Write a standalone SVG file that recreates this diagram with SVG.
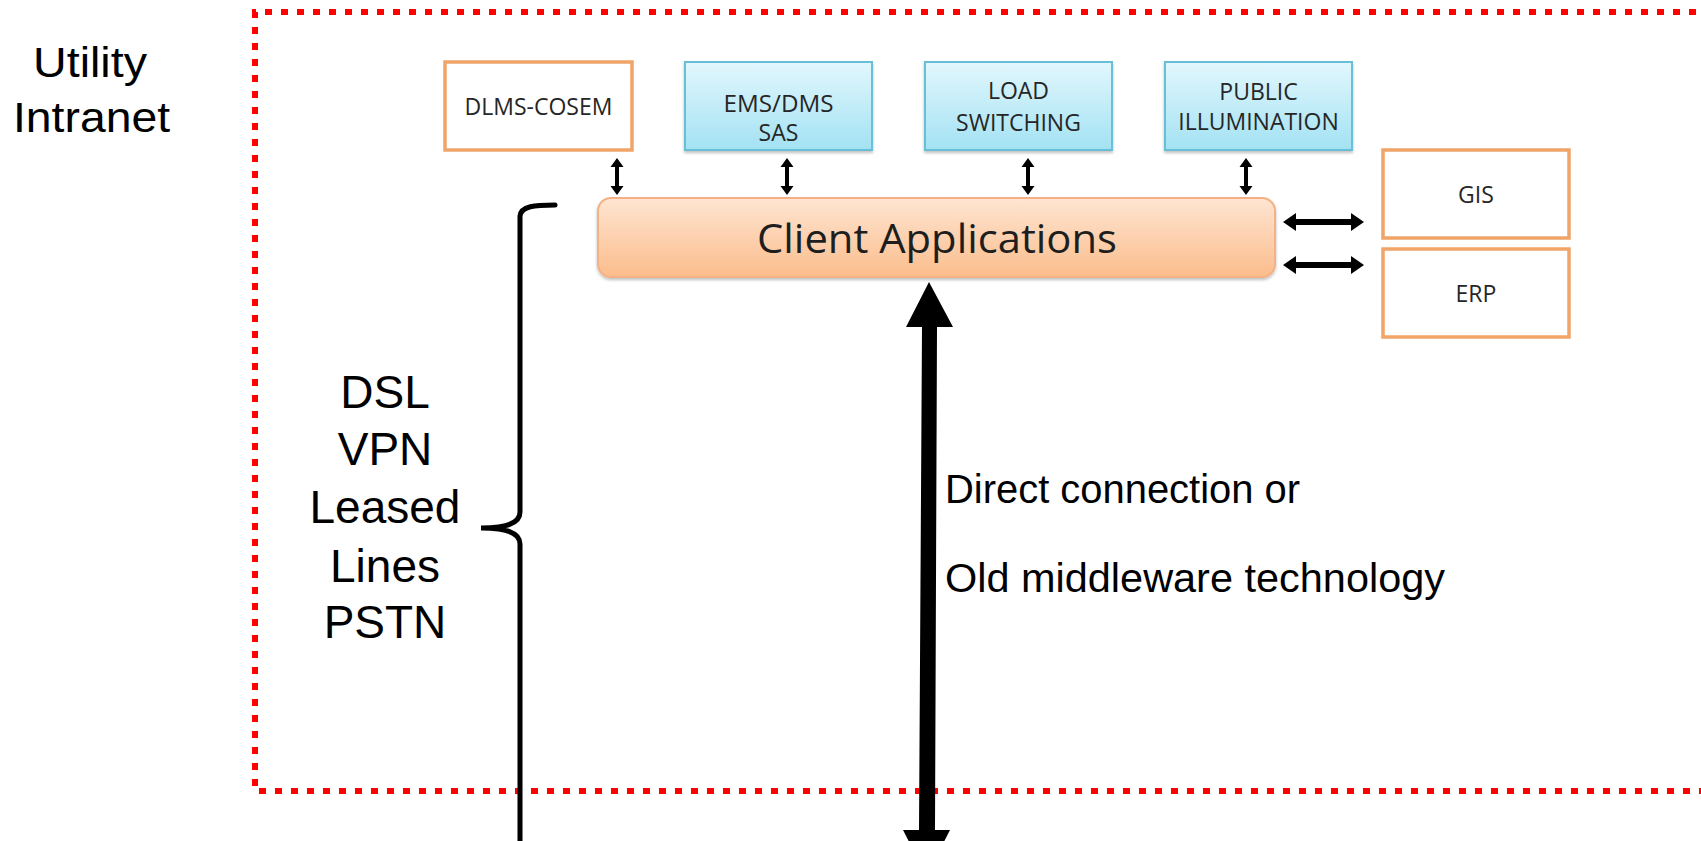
<svg xmlns="http://www.w3.org/2000/svg" width="1701" height="841" viewBox="0 0 1701 841">
<style>
.lbl{font-family:"Liberation Sans",Arial,sans-serif;fill:#000;}
.box{font-family:"Open Sans","Liberation Sans",sans-serif;fill:#262626;font-size:23px;text-anchor:middle;}
.orange{fill:#ffffff;stroke:#f0a468;stroke-width:3.5;}
.blue{fill:url(#gBlue);stroke:#69bfd6;stroke-width:2;filter:url(#sh);}
.arr{fill:#000;}
</style>
<defs>
<linearGradient id="gBlue" x1="0" y1="0" x2="0" y2="1">
<stop offset="0" stop-color="#e2f7fd"/>
<stop offset="1" stop-color="#a3e2f3"/>
</linearGradient>
<linearGradient id="gOr" x1="0" y1="0" x2="0" y2="1">
<stop offset="0" stop-color="#fee5d2"/>
<stop offset="1" stop-color="#fbbd8c"/>
</linearGradient>
<filter id="sh" x="-5%" y="-5%" width="110%" height="125%">
<feDropShadow dx="0" dy="2" stdDeviation="1.5" flood-color="#000" flood-opacity="0.25"/>
</filter>
</defs>

<rect width="1701" height="841" fill="#ffffff"/>

<g id="boundary">
<path d="M1712,12 H255 V791 H1712" fill="none" stroke="#ff0000" stroke-width="6" stroke-dasharray="7 9"/>
</g>

<g id="utility-intranet">
<text class="lbl" font-size="42" x="33" y="77" textLength="114" lengthAdjust="spacingAndGlyphs">Utility</text>
<text class="lbl" font-size="42" x="13" y="132" textLength="157" lengthAdjust="spacingAndGlyphs">Intranet</text>
</g>

<g id="dlms-cosem">
<rect class="orange" x="445" y="62" width="187" height="88"/>
<text class="box" x="538.5" y="115">DLMS-COSEM</text>
</g>

<g id="ems-dms">
<rect class="blue" x="685" y="62" width="187" height="88"/>
<text class="box" x="778.5" y="112" font-size="21" textLength="110" lengthAdjust="spacingAndGlyphs">EMS/DMS</text>
<text class="box" x="778.5" y="141" font-size="21">SAS</text>
</g>

<g id="load-switching">
<rect class="blue" x="925" y="62" width="187" height="88"/>
<text class="box" x="1018.5" y="99">LOAD</text>
<text class="box" x="1018.5" y="131">SWITCHING</text>
</g>

<g id="public-illumination">
<rect class="blue" x="1165" y="62" width="187" height="88"/>
<text class="box" x="1258.5" y="100">PUBLIC</text>
<text class="box" x="1258.5" y="130">ILLUMINATION</text>
</g>

<g id="gis">
<rect class="orange" x="1383" y="150" width="186" height="88"/>
<text class="box" x="1476" y="203" font-size="22">GIS</text>
</g>

<g id="erp">
<rect class="orange" x="1383" y="249" width="186" height="88"/>
<text class="box" x="1476" y="302" font-size="22">ERP</text>
</g>

<g id="client-applications">
<rect x="598" y="198" width="677" height="79" rx="13" ry="13" fill="url(#gOr)" stroke="#f4b185" stroke-width="2" filter="url(#sh)"/>
<text x="757" y="253" font-family="'Open Sans','Liberation Sans',sans-serif" font-size="41" fill="#1e1e1e" textLength="360" lengthAdjust="spacingAndGlyphs">Client Applications</text>
</g>

<g id="access-technologies">
<text class="lbl" font-size="46" text-anchor="middle" x="385" y="408">DSL</text>
<text class="lbl" font-size="46" text-anchor="middle" x="385" y="465">VPN</text>
<text class="lbl" font-size="46" text-anchor="middle" x="385" y="523">Leased</text>
<text class="lbl" font-size="46" text-anchor="middle" x="385" y="582">Lines</text>
<text class="lbl" font-size="46" text-anchor="middle" x="385" y="638">PSTN</text>
<path d="M555,205 C535,205 521,206 520,216 V512 C520,524 505,528 481,528 C505,528 520,532 520,544 V850" fill="none" stroke="#000" stroke-width="5" stroke-linecap="round"/>
</g>

<g id="connection-label">
<text class="lbl" font-size="40" x="945" y="503" textLength="355" lengthAdjust="spacingAndGlyphs">Direct connection or</text>
<text class="lbl" font-size="40" x="945" y="592" textLength="500" lengthAdjust="spacingAndGlyphs">Old middleware technology</text>
</g>

<g id="connectors">
<path class="arr" d="M617,158 L623.5,167 L619,167 L619,186 L623.5,186 L617,195 L610.5,186 L615,186 L615,167 L610.5,167 Z"/>
<path class="arr" d="M787,158 L793.5,167 L789,167 L789,186 L793.5,186 L787,195 L780.5,186 L785,186 L785,167 L780.5,167 Z"/>
<path class="arr" d="M1028,158 L1034.5,167 L1030,167 L1030,186 L1034.5,186 L1028,195 L1021.5,186 L1026,186 L1026,167 L1021.5,167 Z"/>
<path class="arr" d="M1246,158 L1252.5,167 L1248,167 L1248,186 L1252.5,186 L1246,195 L1239.5,186 L1244,186 L1244,167 L1239.5,167 Z"/>
<path class="arr" d="M1283,222 L1296,213 L1296,219 L1351,219 L1351,213 L1364,222 L1351,231 L1351,225 L1296,225 L1296,231 Z"/>
<path class="arr" d="M1283,265 L1296,256 L1296,262 L1351,262 L1351,256 L1364,265 L1351,274 L1351,268 L1296,268 L1296,274 Z"/>
<path class="arr" d="M929,282 L953,327 L937,327 L935,830 L950,830 L926.5,876 L903,830 L919,830 L922,327 L906,327 Z"/>
</g>
</svg>
